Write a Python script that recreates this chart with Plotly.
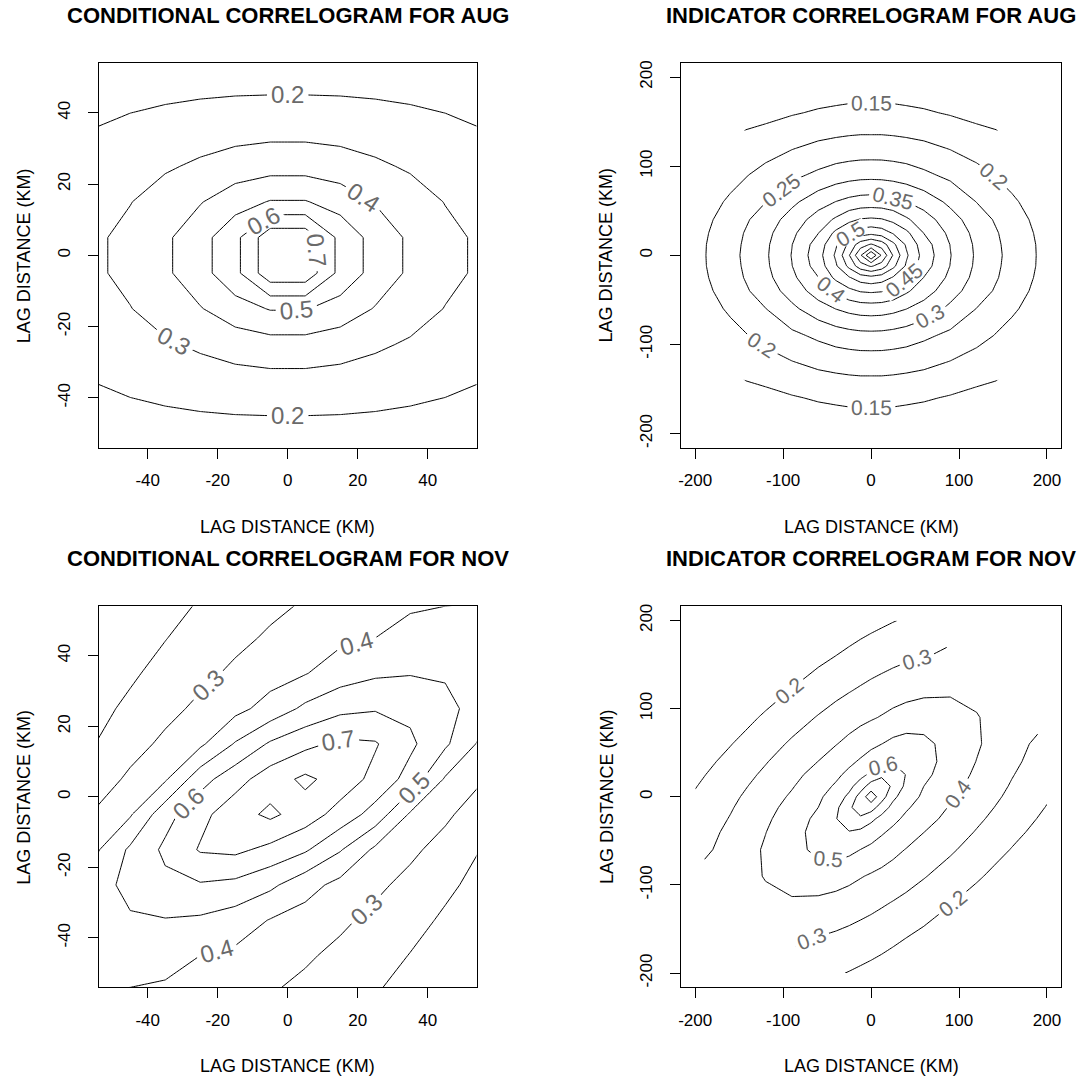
import plotly.graph_objects as go

# ---------------- data (correlation values read from the reference maps) ----------------
# lag grids (km)
lag_cond_km = [-55, -45, -35, -25, -15, -5, 5, 15, 25, 35, 45, 55]
lag_ind_km = [-200, -160, -120, -90, -60, -40, -25, -12, 0, 12, 25, 40, 60, 90, 120, 160, 200]

# conditional correlogram, August (rows = y lag, cols = x lag)
corr_cond_aug = [
    [0.131, 0.140, 0.148, 0.154, 0.158, 0.160, 0.160, 0.158, 0.154, 0.148, 0.140, 0.131],
    [0.167, 0.178, 0.186, 0.193, 0.198, 0.200, 0.200, 0.198, 0.193, 0.186, 0.178, 0.167],
    [0.203, 0.221, 0.238, 0.253, 0.264, 0.271, 0.271, 0.264, 0.253, 0.238, 0.221, 0.203],
    [0.244, 0.266, 0.288, 0.316, 0.345, 0.361, 0.361, 0.345, 0.316, 0.288, 0.266, 0.244],
    [0.272, 0.297, 0.345, 0.394, 0.458, 0.506, 0.506, 0.458, 0.394, 0.345, 0.297, 0.272],
    [0.286, 0.325, 0.383, 0.463, 0.571, 0.767, 0.767, 0.571, 0.463, 0.383, 0.325, 0.286],
    [0.286, 0.325, 0.383, 0.463, 0.571, 0.767, 0.767, 0.571, 0.463, 0.383, 0.325, 0.286],
    [0.272, 0.297, 0.345, 0.394, 0.458, 0.506, 0.506, 0.458, 0.394, 0.345, 0.297, 0.272],
    [0.244, 0.266, 0.288, 0.316, 0.345, 0.361, 0.361, 0.345, 0.316, 0.288, 0.266, 0.244],
    [0.203, 0.221, 0.238, 0.253, 0.264, 0.271, 0.271, 0.264, 0.253, 0.238, 0.221, 0.203],
    [0.167, 0.178, 0.186, 0.193, 0.198, 0.200, 0.200, 0.198, 0.193, 0.186, 0.178, 0.167],
    [0.131, 0.140, 0.148, 0.154, 0.158, 0.160, 0.160, 0.158, 0.154, 0.148, 0.140, 0.131],
]

# indicator correlogram, August (None = lag not computed)
corr_ind_aug = [
    [None, None, None, None, 0.111, 0.114, 0.115, 0.116, 0.116, 0.116, 0.115, 0.114, 0.111, None, None, None, None],
    [None, None, 0.136, 0.146, 0.155, 0.159, 0.162, 0.163, 0.163, 0.163, 0.162, 0.159, 0.155, 0.146, 0.136, None, None],
    [None, 0.153, 0.181, 0.198, 0.212, 0.218, 0.221, 0.223, 0.223, 0.223, 0.221, 0.218, 0.212, 0.198, 0.181, 0.153, None],
    [None, 0.183, 0.216, 0.239, 0.260, 0.274, 0.281, 0.285, 0.286, 0.285, 0.281, 0.274, 0.260, 0.239, 0.216, 0.183, None],
    [0.168, 0.208, 0.249, 0.289, 0.329, 0.351, 0.364, 0.371, 0.373, 0.371, 0.364, 0.351, 0.329, 0.289, 0.249, 0.208, 0.168],
    [0.177, 0.222, 0.273, 0.321, 0.373, 0.408, 0.438, 0.454, 0.458, 0.454, 0.438, 0.408, 0.373, 0.321, 0.273, 0.222, 0.177],
    [0.182, 0.229, 0.285, 0.339, 0.399, 0.462, 0.496, 0.525, 0.536, 0.525, 0.496, 0.462, 0.399, 0.339, 0.285, 0.229, 0.182],
    [0.185, 0.232, 0.291, 0.349, 0.423, 0.494, 0.563, 0.628, 0.656, 0.628, 0.563, 0.494, 0.423, 0.349, 0.291, 0.232, 0.185],
    [0.185, 0.234, 0.293, 0.352, 0.431, 0.508, 0.597, 0.694, 0.800, 0.694, 0.597, 0.508, 0.431, 0.352, 0.293, 0.234, 0.185],
    [0.185, 0.232, 0.291, 0.349, 0.423, 0.494, 0.563, 0.628, 0.656, 0.628, 0.563, 0.494, 0.423, 0.349, 0.291, 0.232, 0.185],
    [0.182, 0.229, 0.285, 0.339, 0.399, 0.462, 0.496, 0.525, 0.536, 0.525, 0.496, 0.462, 0.399, 0.339, 0.285, 0.229, 0.182],
    [0.177, 0.222, 0.273, 0.321, 0.373, 0.408, 0.438, 0.454, 0.458, 0.454, 0.438, 0.408, 0.373, 0.321, 0.273, 0.222, 0.177],
    [0.168, 0.208, 0.249, 0.289, 0.329, 0.351, 0.364, 0.371, 0.373, 0.371, 0.364, 0.351, 0.329, 0.289, 0.249, 0.208, 0.168],
    [None, 0.183, 0.216, 0.239, 0.260, 0.274, 0.281, 0.285, 0.286, 0.285, 0.281, 0.274, 0.260, 0.239, 0.216, 0.183, None],
    [None, 0.153, 0.181, 0.198, 0.212, 0.218, 0.221, 0.223, 0.223, 0.223, 0.221, 0.218, 0.212, 0.198, 0.181, 0.153, None],
    [None, None, 0.136, 0.146, 0.155, 0.159, 0.162, 0.163, 0.163, 0.163, 0.162, 0.159, 0.155, 0.146, 0.136, None, None],
    [None, None, None, None, 0.111, 0.114, 0.115, 0.116, 0.116, 0.116, 0.115, 0.114, 0.111, None, None, None, None],
]

# conditional correlogram, November
corr_cond_nov = [
    [0.400, 0.395, 0.385, 0.367, 0.341, 0.306, 0.277, 0.244, 0.205, 0.171, 0.136, 0.098],
    [0.442, 0.447, 0.434, 0.400, 0.380, 0.351, 0.313, 0.277, 0.239, 0.197, 0.161, 0.122],
    [0.465, 0.489, 0.495, 0.485, 0.452, 0.395, 0.361, 0.318, 0.275, 0.231, 0.186, 0.147],
    [0.458, 0.529, 0.576, 0.591, 0.574, 0.521, 0.437, 0.371, 0.321, 0.271, 0.219, 0.173],
    [0.383, 0.517, 0.620, 0.709, 0.722, 0.673, 0.613, 0.508, 0.381, 0.321, 0.262, 0.200],
    [0.311, 0.390, 0.563, 0.671, 0.758, 0.821, 0.752, 0.661, 0.561, 0.388, 0.319, 0.246],
    [0.246, 0.319, 0.388, 0.561, 0.661, 0.752, 0.821, 0.758, 0.671, 0.563, 0.390, 0.311],
    [0.200, 0.262, 0.321, 0.381, 0.508, 0.613, 0.673, 0.722, 0.709, 0.620, 0.517, 0.383],
    [0.173, 0.219, 0.271, 0.321, 0.371, 0.437, 0.521, 0.574, 0.591, 0.576, 0.529, 0.458],
    [0.147, 0.186, 0.231, 0.275, 0.318, 0.361, 0.395, 0.452, 0.485, 0.495, 0.489, 0.465],
    [0.122, 0.161, 0.197, 0.239, 0.277, 0.313, 0.351, 0.380, 0.400, 0.434, 0.447, 0.442],
    [0.098, 0.136, 0.171, 0.205, 0.244, 0.277, 0.306, 0.341, 0.367, 0.385, 0.395, 0.400],
]

# indicator correlogram, November
corr_ind_nov = [
    [None, None, None, None, 0.224, 0.209, 0.196, 0.184, 0.173, 0.161, 0.148, 0.131, 0.109, None, None, None, None],
    [None, None, 0.311, 0.309, 0.297, 0.284, 0.272, 0.259, 0.247, 0.234, 0.218, 0.200, 0.176, 0.139, 0.100, None, None],
    [None, 0.332, 0.375, 0.387, 0.380, 0.367, 0.353, 0.340, 0.327, 0.312, 0.296, 0.277, 0.249, 0.205, 0.164, 0.108, None],
    [None, 0.343, 0.406, 0.444, 0.457, 0.444, 0.426, 0.406, 0.390, 0.375, 0.358, 0.336, 0.306, 0.260, 0.212, 0.153, None],
    [0.266, 0.334, 0.411, 0.468, 0.523, 0.537, 0.524, 0.499, 0.476, 0.452, 0.425, 0.396, 0.363, 0.313, 0.262, 0.196, 0.136],
    [0.251, 0.320, 0.398, 0.462, 0.537, 0.585, 0.595, 0.578, 0.549, 0.512, 0.479, 0.445, 0.401, 0.348, 0.294, 0.225, 0.162],
    [0.237, 0.305, 0.384, 0.448, 0.524, 0.595, 0.667, 0.676, 0.622, 0.571, 0.524, 0.480, 0.434, 0.373, 0.317, 0.247, 0.180],
    [0.224, 0.292, 0.369, 0.432, 0.500, 0.578, 0.676, 0.772, 0.749, 0.650, 0.571, 0.512, 0.461, 0.393, 0.336, 0.264, 0.196],
    [0.210, 0.279, 0.353, 0.413, 0.482, 0.549, 0.622, 0.745, 0.860, 0.745, 0.622, 0.549, 0.482, 0.413, 0.353, 0.279, 0.210],
    [0.196, 0.264, 0.336, 0.393, 0.461, 0.512, 0.571, 0.650, 0.749, 0.772, 0.676, 0.578, 0.500, 0.432, 0.369, 0.292, 0.224],
    [0.180, 0.247, 0.317, 0.373, 0.434, 0.480, 0.524, 0.571, 0.622, 0.676, 0.667, 0.595, 0.524, 0.448, 0.384, 0.305, 0.237],
    [0.162, 0.225, 0.294, 0.348, 0.401, 0.445, 0.479, 0.512, 0.549, 0.578, 0.595, 0.585, 0.537, 0.462, 0.398, 0.320, 0.251],
    [0.136, 0.196, 0.262, 0.313, 0.363, 0.396, 0.425, 0.452, 0.476, 0.499, 0.524, 0.537, 0.523, 0.468, 0.411, 0.334, 0.266],
    [None, 0.153, 0.212, 0.260, 0.306, 0.336, 0.358, 0.375, 0.390, 0.406, 0.426, 0.444, 0.457, 0.444, 0.406, 0.343, None],
    [None, 0.108, 0.164, 0.205, 0.249, 0.277, 0.296, 0.312, 0.327, 0.340, 0.353, 0.367, 0.380, 0.387, 0.375, 0.332, None],
    [None, None, 0.100, 0.139, 0.176, 0.200, 0.218, 0.234, 0.247, 0.259, 0.272, 0.284, 0.297, 0.309, 0.311, None, None],
    [None, None, None, None, 0.109, 0.131, 0.148, 0.161, 0.173, 0.184, 0.196, 0.209, 0.224, None, None, None, None],
]

panel_titles = ["CONDITIONAL CORRELOGRAM FOR AUG", "INDICATOR CORRELOGRAM FOR AUG",
                "CONDITIONAL CORRELOGRAM FOR NOV", "INDICATOR CORRELOGRAM FOR NOV"]
axis_label = "LAG DISTANCE (KM)"
ticks_cond = [-40, -20, 0, 20, 40]
ticks_ind = [-200, -100, 0, 100, 200]
levels_cond_aug = (0.2, 0.7, 0.1)
levels_ind_aug = (0.15, 0.75, 0.05)
levels_cond_nov = (0.2, 0.8, 0.1)
levels_ind_nov = (0.2, 0.8, 0.1)

# ---------------- figure ----------------
W, H = 1078, 1076
FONT = "Liberation Sans"
# plot frames in pixels: (left, right, top, bottom)
frames = [(96, 475, 60, 446), (680, 1061, 60, 446), (96, 475, 605, 987), (680, 1061, 605, 987)]
panels = [
    (lag_cond_km, corr_cond_aug, levels_cond_aug, ticks_cond, 54, 24),
    (lag_ind_km, corr_ind_aug, levels_ind_aug, ticks_ind, 216, 21),
    (lag_cond_km, corr_cond_nov, levels_cond_nov, ticks_cond, 54, 24),
    (lag_ind_km, corr_ind_nov, levels_ind_nov, ticks_ind, 216, 21),
]

fig = go.Figure()
annotations = []
for k, (g, Z, (lo, hi, st), tk, rng, lab_size) in enumerate(panels):
    sfx = "" if k == 0 else str(k + 1)
    fig.add_trace(go.Contour(
        x=g, y=g, z=Z, xaxis="x" + sfx, yaxis="y" + sfx,
        contours=dict(start=lo, end=hi + 1e-9, size=st, coloring="none", showlabels=True,
                      labelfont=dict(family=FONT, size=lab_size, color="#6a6a6a"), labelformat=".2~f"),
        line=dict(color="black", width=1, smoothing=0),
        showscale=False, connectgaps=False, hoverinfo="skip"))
    l, r, t, b = frames[k]
    common = dict(showline=True, mirror=True, linecolor="black", linewidth=1, ticks="outside",
                  ticklen=10, tickwidth=1, tickcolor="black", showgrid=False, zeroline=False,
                  tickfont=dict(family=FONT, size=17, color="black"),
                  tickvals=tk, ticktext=[str(v) for v in tk],
                  range=[-rng, rng], fixedrange=True)
    fig.layout["xaxis" + sfx] = dict(common, domain=[l / W, r / W], anchor="y" + sfx, ticklabelstandoff=7)
    fig.layout["yaxis" + sfx] = dict(common, domain=[1 - b / H, 1 - t / H], anchor="x" + sfx,
                                     tickangle=-90, ticklabelstandoff=11)
    annotations.append(dict(text="<b>" + panel_titles[k] + "</b>", x=(l + r) / 2 / W, y=1 - (t - 47.5) / H,
                            xref="paper", yref="paper", xanchor="center", yanchor="middle", showarrow=False,
                            font=dict(family=FONT, size=22, color="black")))
    annotations.append(dict(text=axis_label, x=(l + r) / 2 / W, y=1 - (b + 79) / H,
                            xref="paper", yref="paper", xanchor="center", yanchor="middle", showarrow=False,
                            font=dict(family=FONT, size=18, color="black")))
    annotations.append(dict(text=axis_label, x=(l - 75) / W, y=1 - (t + b) / 2 / H, textangle=-90,
                            xref="paper", yref="paper", xanchor="center", yanchor="middle", showarrow=False,
                            font=dict(family=FONT, size=18, color="black")))

fig.update_layout(width=W, height=H, margin=dict(l=0, r=0, t=0, b=0), paper_bgcolor="white",
                  plot_bgcolor="white", showlegend=False, annotations=annotations)
fig.write_html("out.html", config={"displayModeBar": False},
               post_script="document.body.style.margin='0';document.body.style.overflow='hidden';")
